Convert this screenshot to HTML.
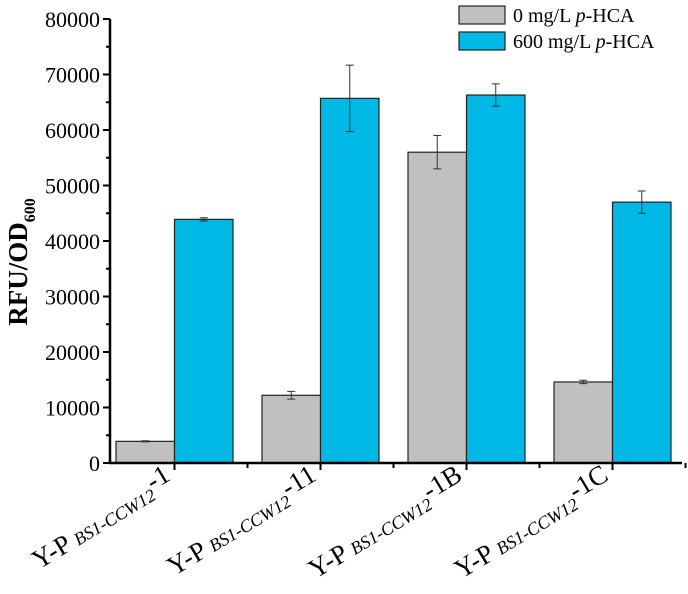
<!DOCTYPE html>
<html><head><meta charset="utf-8"><style>
body{margin:0;background:#fff;}
svg text{font-family:"Liberation Serif",serif;}
</style></head><body>
<svg width="688" height="589">
<g id="plot"></g>
<text transform="translate(27,262) rotate(-90)" text-anchor="middle" font-size="27" font-weight="bold">RFU/OD<tspan font-size="16" dy="8">600</tspan></text>
<g>
<rect x="459" y="6" width="46" height="18" fill="#c0c0c0" stroke="#222" stroke-width="1.2"/>
<text x="513" y="22" font-size="20">0 mg/L <tspan font-style="italic">p</tspan>-HCA</text>
<rect x="459" y="32" width="46" height="18" fill="#00b8e5" stroke="#222" stroke-width="1.2"/>
<text x="513" y="48" font-size="20">600 mg/L <tspan font-style="italic">p</tspan>-HCA</text>
</g>
</svg>
<script>
const categories=["1","11","1B","1C"];
const gray=[3900,12200,56000,14600];
const grayErr=[100,700,3000,300];
const blue=[43900,65700,66300,47000];
const blueErr=[300,6000,2000,2000];
const yTicks=[0,10000,20000,30000,40000,50000,60000,70000,80000];
const NS="http://www.w3.org/2000/svg";
const g=document.getElementById('plot');
const x0=110,x1=682,yb=463,yt=19;
const y=v=>yb-(v/80000)*(yb-yt);
const groupW=146,left=116,barW=58.5;
function mk(t,a){const e=document.createElementNS(NS,t);for(const k in a)e.setAttribute(k,a[k]);g.appendChild(e);return e;}
function bar(i,v,err,off,fill,name){
  const bx=left+i*groupW+off*barW;
  const r=mk('rect',{x:bx,y:y(v),width:barW,height:yb-y(v),fill:fill,stroke:'#222','stroke-width':1.2});
  
  
  const cx=bx+barW/2;
  const e=mk('path',{d:`M${cx} ${y(v+err)}V${y(v-err)}M${cx-4} ${y(v+err)}H${cx+4}M${cx-4} ${y(v-err)}H${cx+4}`,stroke:'#333','stroke-width':1,fill:'none'});
  
  
}
categories.forEach((c,i)=>{bar(i,gray[i],grayErr[i],0,'#c0c0c0','bar-gray');bar(i,blue[i],blueErr[i],1,'#00b8e5','bar-blue');});
const ax=mk('path',{d:`M${x0} ${yt}V${yb}H${x1}`,stroke:'#000','stroke-width':2.5,fill:'none'});


yTicks.forEach(t=>{
  const tk=mk('path',{d:`M${x0-7} ${y(t)}H${x0}M${x0-4} ${y(t+5000)}H${x0}`,stroke:'#000','stroke-width':2});
  
  
  const tl=mk('text',{x:x0-10,y:y(t)+8,'text-anchor':'end','font-size':22});
  tl.textContent=t;
  
  
});
categories.forEach((c,i)=>{
  const cx=left+i*groupW+barW;
  const tk=mk('path',{d:`M${cx} ${yb}V${yb+7}M${cx+groupW/2} ${yb}V${yb+5}`,stroke:'#000','stroke-width':2});
  
  
  const t=mk('text',{transform:`translate(${cx+2},${yb+24}) rotate(-31)`,'text-anchor':'end','font-size':27});
  t.innerHTML='Y-P <tspan font-style="italic" font-size="18">BS1-CCW12</tspan><tspan dy="-9">-'+c+'</tspan>';
  
  
});
</script>
</body></html>
